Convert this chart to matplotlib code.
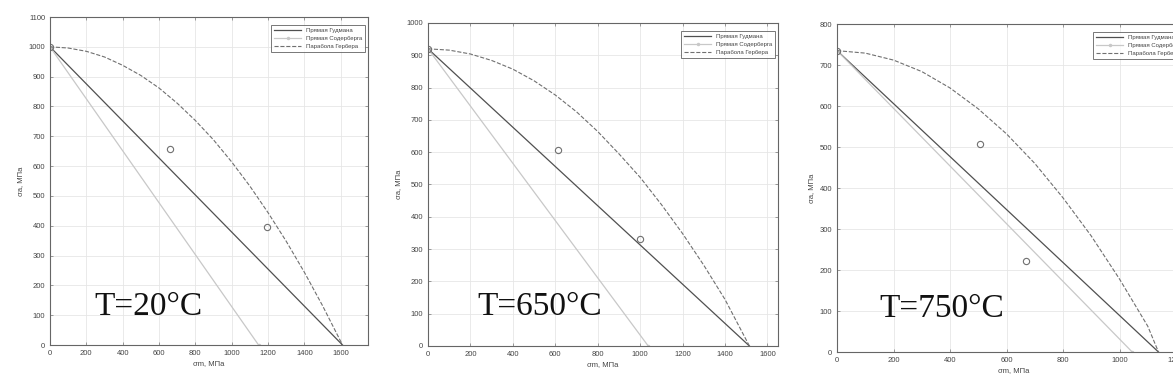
import matplotlib.pyplot as plt
import numpy as np

plt.rcParams['font.family'] = ['Liberation Sans', 'DejaVu Sans']

titles = ['T=20°C', 'T=650°C', 'T=750°C']

# Goodman line end points (sigma_m, sigma_a)
goodman_x = [[0, 1610], [0, 1515], [0, 1138]]
goodman_y = [[1000, 0], [920, 0], [735, 0]]

# Soderberg line end points
soder_x = [[0, 1148], [0, 1038], [0, 1045]]
soder_y = [[1000, 0], [920, 0], [735, 0]]

# Gerber parabola, points
gerber_x = [
    [0, 100, 200, 300, 400, 500, 600, 700, 800, 900, 1000, 1100, 1200, 1300, 1400, 1500, 1610],
    [0, 100, 200, 300, 400, 500, 600, 700, 800, 900, 1000, 1100, 1200, 1300, 1400, 1515],
    [0, 100, 200, 300, 400, 500, 600, 700, 800, 900, 1000, 1100, 1138],
]
gerber_y = [
    [1000, 996, 985, 966, 938, 904, 862, 811, 753, 688, 614, 533, 444, 348, 244, 132, 0],
    [920, 916, 904, 884, 857, 821, 777, 725, 664, 595, 522, 438, 348, 250, 144, 0],
    [735, 729, 712, 684, 644, 593, 532, 460, 376, 283, 178, 63, 0],
]

# experimental points
pts_x = [[0, 662, 1197], [0, 613, 1000], [0, 507, 670]]
pts_y = [[1000, 657, 396], [920, 606, 330], [735, 507, 222]]

xlims = [1750, 1650, 1250]
ylims = [1100, 1000, 800]

# axes rectangles in figure fractions
rects = [
    [0.0426, 0.1176, 0.2711, 0.8389],
    [0.3649, 0.1151, 0.2984, 0.8261],
    [0.7136, 0.0997, 0.3010, 0.8389],
]
text_pos = [(0.14, 0.09), (0.14, 0.096), (0.12, 0.107)]

fig = plt.figure(figsize=(11.73, 3.91), dpi=100)

for i in range(3):
    ax = fig.add_axes(rects[i])
    ax.plot(goodman_x[i], goodman_y[i], color='#505050', lw=0.9,
            label='Прямая Гудмана')
    ax.plot(soder_x[i], soder_y[i], color='#c8c8c8', lw=0.9, marker='.',
            markersize=3, label='Прямая Содерберга')
    ax.plot(gerber_x[i], gerber_y[i], color='#707070', lw=0.8, ls='--',
            label='Парабола Гербера')
    ax.plot(pts_x[i], pts_y[i], ls='none', marker='o', markersize=4.5,
            markerfacecolor='none', markeredgecolor='#707070', markeredgewidth=0.8)

    ax.set_xlim(0, xlims[i])
    ax.set_ylim(0, ylims[i])
    ax.set_xticks(np.arange(0, xlims[i], 200))
    ax.set_yticks(np.arange(0, ylims[i] + 1, 100))
    ax.grid(True, color='#e6e6e6', lw=0.6)
    ax.set_axisbelow(True)
    ax.tick_params(direction='in', length=2, width=0.5, labelsize=5.5,
                   labelcolor='#444444', color='#777777', top=True, right=True)
    for s in ax.spines.values():
        s.set_color('#666666')
        s.set_linewidth(0.8)
    ax.set_xlabel('σm, МПа', fontsize=5.5, color='#444444', labelpad=2)
    ax.set_ylabel('σa, МПа', fontsize=5.5, color='#444444', labelpad=3)

    leg = ax.legend(loc='upper right', fontsize=4.3, handlelength=4.5,
                    frameon=True, fancybox=False, borderpad=0.5,
                    labelspacing=0.5, edgecolor='#555555',
                    bbox_to_anchor=(1.0, 0.985))
    leg.get_frame().set_linewidth(0.7)
    for t in leg.get_texts():
        t.set_color('#444444')

    ax.text(text_pos[i][0], text_pos[i][1], titles[i], transform=ax.transAxes,
            fontsize=24, family='Liberation Serif', color='#111111')

fig.savefig('out.png', dpi=100)
